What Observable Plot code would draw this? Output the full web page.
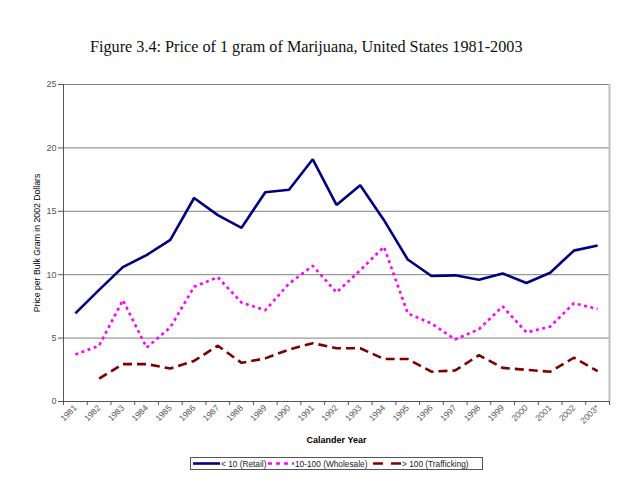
<!DOCTYPE html>
<html>
<head>
<meta charset="utf-8">
<script src="https://cdn.jsdelivr.net/npm/d3@7"></script>
<script src="https://cdn.jsdelivr.net/npm/@observablehq/plot@0.6"></script>
<style>
  html, body { margin: 0; padding: 0; background: #fff; }
  body { position: relative; width: 642px; height: 491px; overflow: hidden; }
  #title { position: absolute; left: 90px; top: 38px; font-family: "Liberation Serif", serif; font-size: 16.2px; color: #111; white-space: nowrap; }
  #chart { position: absolute; left: 0; top: 70px; }
  #legend { position: absolute; left: 190px; top: 457px; }
</style>
</head>
<body>
<div id="title">Figure 3.4: Price of 1 gram of Marijuana, United States 1981-2003</div>
<div id="chart"></div>
<div id="legend"></div>
<script>
const years = [1981,1982,1983,1984,1985,1986,1987,1988,1989,1990,1991,1992,1993,1994,1995,1996,1997,1998,1999,2000,2001,2002,2003];
const yearLabels = ["1981","1982","1983","1984","1985","1986","1987","1988","1989","1990","1991","1992","1993","1994","1995","1996","1997","1998","1999","2000","2001","2002","2003*"];
const retail = [6.95,8.8,10.6,11.55,12.75,16.05,14.7,13.7,16.5,16.7,19.1,15.5,17.05,14.3,11.2,9.9,9.95,9.6,10.1,9.35,10.15,11.9,12.3];
const wholesale = [3.7,4.4,8.0,4.25,5.85,9.05,9.8,7.8,7.2,9.3,10.7,8.6,10.35,12.2,6.95,6.15,4.9,5.7,7.5,5.45,5.9,7.75,7.3];
const trafficking = [null,1.8,2.95,2.95,2.6,3.2,4.4,3.05,3.4,4.1,4.6,4.2,4.2,3.35,3.35,2.35,2.45,3.65,2.65,2.5,2.35,3.45,2.4];
const seriesNames = ["< 10 (Retail)", "10-100 (Wholesale)", "> 100 (Trafficking)"];
const seriesColors = ["#000080", "#ff00ff", "#800000"];
const seriesDash = [null, "3,3.5", "9,5"];
const yTicks = [0,5,10,15,20,25];

const rows = [];
[retail, wholesale, trafficking].forEach((arr, s) => {
  arr.forEach((v, i) => { if (v != null) rows.push({year: years[i], value: v, series: seriesNames[s]}); });
});
const boundaries = years.map(y => y - 0.5).concat([years[years.length - 1] + 0.5]);

const lineMarks = seriesNames.map((name, s) => Plot.line(rows.filter(r => r.series === name), {
  x: "year", y: "value", stroke: seriesColors[s], strokeWidth: 2.6,
  strokeDasharray: seriesDash[s] || undefined, strokeLinejoin: "miter", strokeLinecap: "butt"
}));

const chart = Plot.plot({
  width: 642,
  height: 380,
  marginLeft: 63,
  marginRight: 33,
  marginTop: 14,
  marginBottom: 49,
  style: {fontFamily: "Liberation Sans, Arial, sans-serif", background: "white"},
  x: {type: "linear", domain: [boundaries[0], boundaries[boundaries.length - 1]]},
  y: {domain: [0, 25]},
  marks: [
    Plot.gridY(yTicks.filter(t => t > 0), {stroke: "#808080", strokeOpacity: 1, strokeWidth: 1}),
    Plot.ruleX([boundaries[boundaries.length - 1]], {stroke: "#c0c0c0", strokeWidth: 2}),
    Plot.ruleX([boundaries[0]], {stroke: "#555", strokeWidth: 1}),
    Plot.ruleY([0], {stroke: "#555", strokeWidth: 1}),
    Plot.axisY({ticks: yTicks, tickSize: 5, tickPadding: 2, fontSize: 9, color: "#555", label: null}),
    Plot.axisX({ticks: boundaries, tickFormat: () => "", tickSize: 4, color: "#555", label: null}),
    Plot.axisX({ticks: years, tickFormat: (d) => yearLabels[years.indexOf(d)], tickSize: 0, tickPadding: 5, tickRotate: -45, fontSize: 8.5, color: "#555", label: null}),
    ...lineMarks,
    Plot.text(["Price per Bulk Gram in 2002 Dollars"], {frameAnchor: "left", dx: -26, rotate: -90, textAnchor: "middle", fontSize: 8.7, fill: "#000"}),
    Plot.text(["Calander Year"], {frameAnchor: "bottom", dy: 41, fontSize: 9, fontWeight: "bold", fill: "#000"})
  ]
});
document.getElementById("chart").appendChild(chart);

// legend
const ns = "http://www.w3.org/2000/svg";
const lg = document.createElementNS(ns, "svg");
lg.setAttribute("width", 294); lg.setAttribute("height", 14);
lg.style.fontFamily = "Liberation Sans, Arial, sans-serif";
const box = document.createElementNS(ns, "rect");
box.setAttribute("x", 0.5); box.setAttribute("y", 0.5); box.setAttribute("width", 292); box.setAttribute("height", 12);
box.setAttribute("fill", "white"); box.setAttribute("stroke", "#555");
lg.appendChild(box);
const samples = [[3, 30], [78, 104], [183, 211]];
const textX = [31, 105, 212];
seriesNames.forEach((name, s) => {
  const ln = document.createElementNS(ns, "line");
  ln.setAttribute("x1", samples[s][0]); ln.setAttribute("x2", samples[s][1]);
  ln.setAttribute("y1", 6.5); ln.setAttribute("y2", 6.5);
  ln.setAttribute("stroke", seriesColors[s]); ln.setAttribute("stroke-width", 2.6);
  if (seriesDash[s]) ln.setAttribute("stroke-dasharray", s === 1 ? "4,4" : "10,8");
  lg.appendChild(ln);
  const t = document.createElementNS(ns, "text");
  t.setAttribute("x", textX[s]); t.setAttribute("y", 10);
  t.setAttribute("font-size", 8.3); t.setAttribute("fill", "#222");
  t.textContent = name;
  lg.appendChild(t);
});
document.getElementById("legend").appendChild(lg);
</script>
</body>
</html>
